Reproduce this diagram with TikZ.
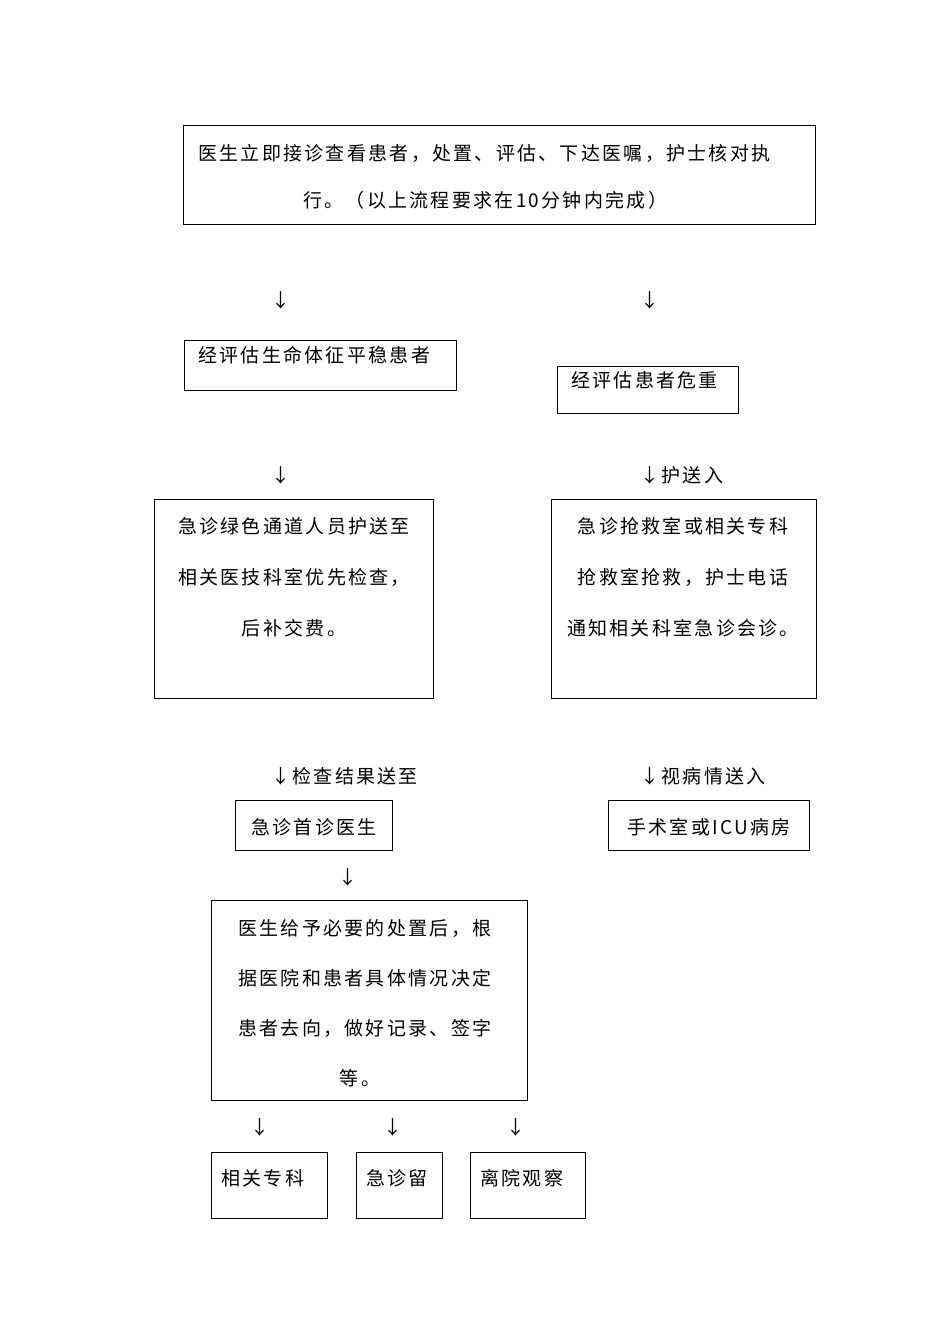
\documentclass[tikz,border=0pt]{standalone}
\usepackage{fontspec}
\setmainfont{Noto Sans CJK SC}[LetterSpace=12]
\begin{document}
\begin{tikzpicture}[x=1pt,y=-1pt,
  box/.style={draw,line width=0.8pt},
  txt/.style={inner sep=0pt,font=\fontsize{19}{19}\selectfont},
  arr/.style={inner sep=0pt,anchor=west,font=\fontsize{19}{19}\selectfont}]
\useasboundingbox (0,0) rectangle (950,1344);
% boxes
\draw[box] (183,125) rectangle (815,224);
\node[txt,anchor=west] (t1a) at (198,153) {医生立即接诊查看患者，处置、评估、下达医嘱，护士核对执};
\node[txt,anchor=west] (t1b) at (303,200) {行。（以上流程要求在10分钟内完成）};
\node[arr] (a1) at (271,300) {↓};
\node[arr] (a2) at (640,300) {↓};
\draw[box] (184,340) rectangle (456,390);
\node[txt,anchor=west] (t2) at (198,355) {经评估生命体征平稳患者};
\draw[box] (557,366) rectangle (738,413);
\node[txt,anchor=west] (t3) at (571,380) {经评估患者危重};
\node[arr] (a3) at (271,475) {↓};
\node[arr] (a4) at (640,475) {↓护送入};
\draw[box] (154,499) rectangle (433,698);
\node[txt] (t4a) at (294,526) {急诊绿色通道人员护送至};
\node[txt] (t4b) at (294,577) {相关医技科室优先检查，};
\node[txt] (t4c) at (294,628) {后补交费。};
\draw[box] (551,499) rectangle (816,698);
\node[txt] (t5a) at (683,526) {急诊抢救室或相关专科};
\node[txt] (t5b) at (683,577) {抢救室抢救，护士电话};
\node[txt] (t5c) at (683,628) {通知相关科室急诊会诊。};
\node[arr] (a5) at (271,776) {↓检查结果送至};
\node[arr] (a6) at (640,776) {↓视病情送入};
\draw[box] (235,800) rectangle (392,850);
\node[txt] (t6) at (314,827) {急诊首诊医生};
\draw[box] (608,800) rectangle (809,850);
\node[txt] (t7) at (709,827) {手术室或ICU病房};
\node[arr] (a7) at (338,877) {↓};
\draw[box] (211,900) rectangle (527,1100);
\node[txt,anchor=west] (t8a) at (238,928) {医生给予必要的处置后，根};
\node[txt,anchor=west] (t8b) at (238,978) {据医院和患者具体情况决定};
\node[txt,anchor=west] (t8c) at (238,1028) {患者去向，做好记录、签字};
\node[txt] (t8d) at (360,1078) {等。};
\node[arr] (a8) at (250,1127) {↓};
\node[arr] (a9) at (383,1127) {↓};
\node[arr] (a10) at (506,1127) {↓};
\draw[box] (211,1152) rectangle (327,1218);
\node[txt,anchor=west] (t9) at (221,1178) {相关专科};
\draw[box] (356,1152) rectangle (442,1218);
\node[txt,anchor=west] (t10) at (366,1178) {急诊留};
\draw[box] (470,1152) rectangle (585,1218);
\node[txt,anchor=west] (t11) at (480,1178) {离院观察};
\end{tikzpicture}
\end{document}
